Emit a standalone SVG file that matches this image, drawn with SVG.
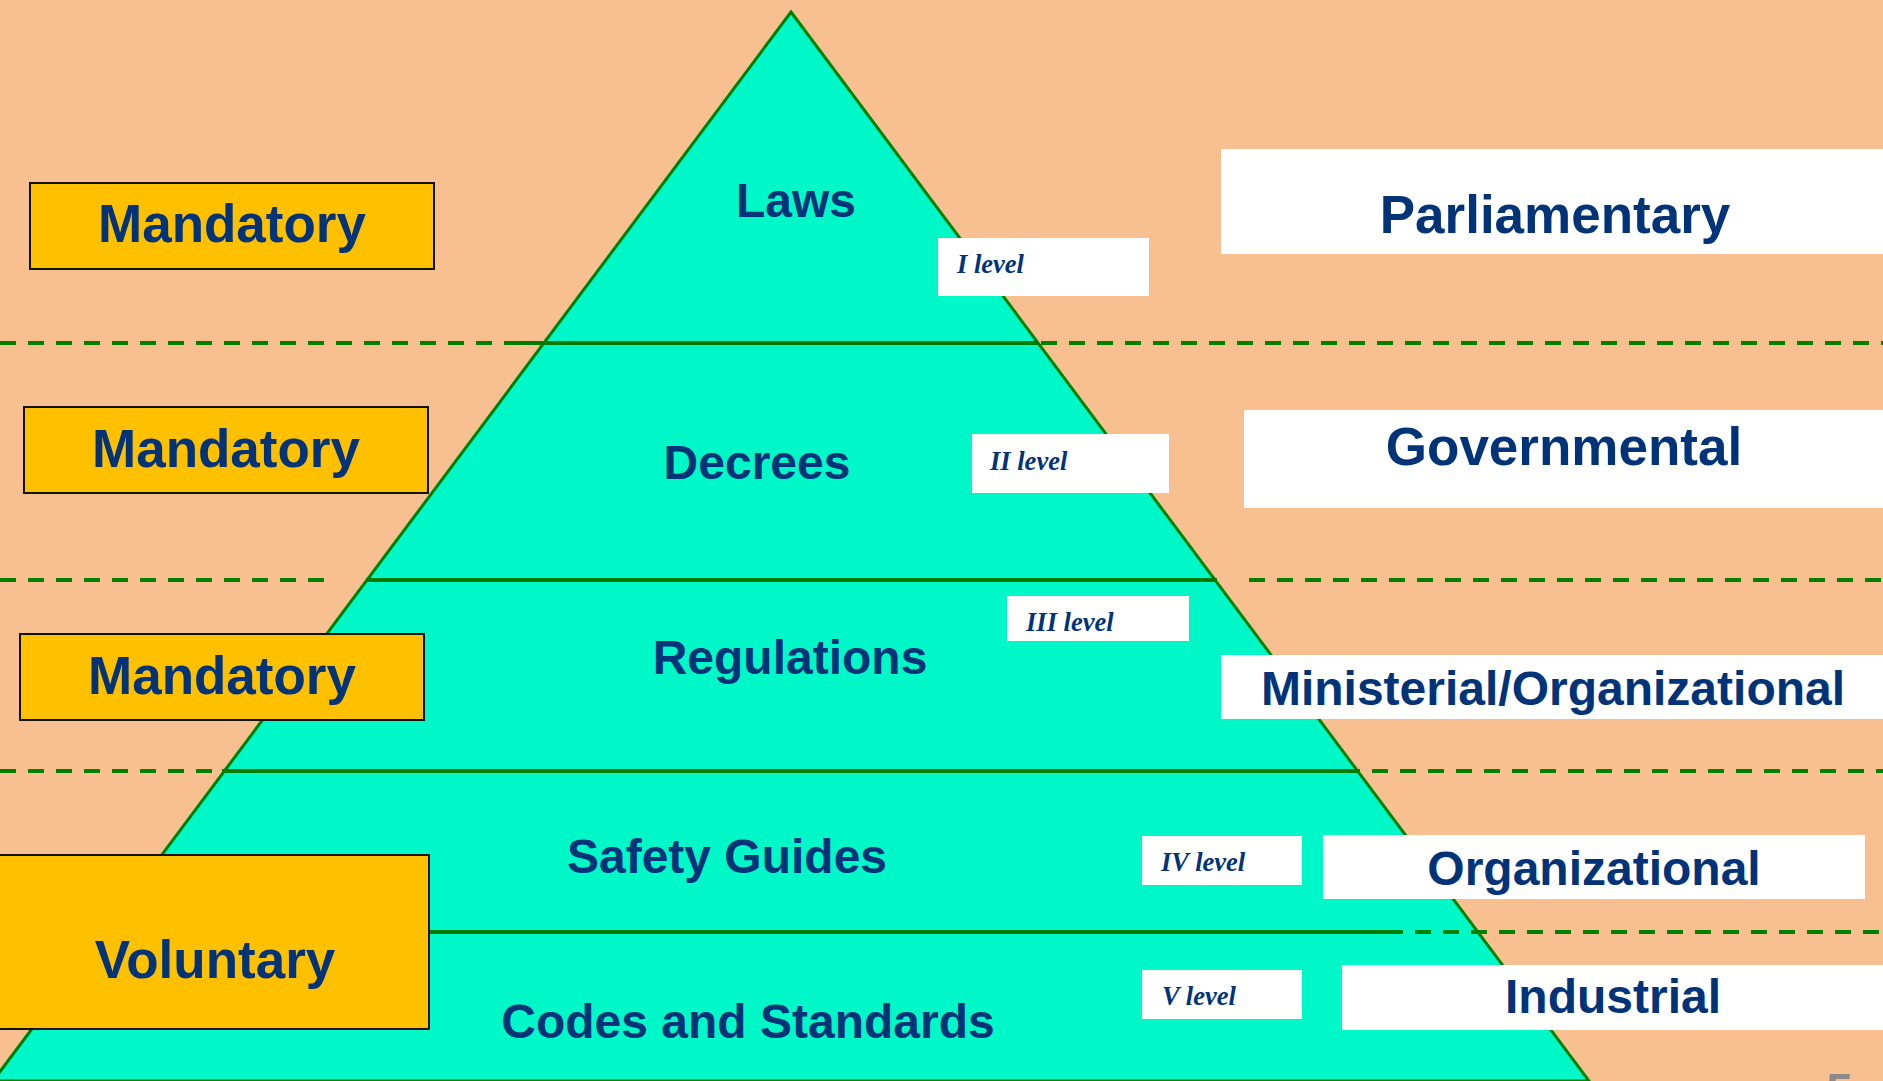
<svg xmlns="http://www.w3.org/2000/svg" width="1883" height="1081" viewBox="0 0 1883 1081">
<style>
.bold{font-family:"Liberation Sans",Arial,sans-serif;font-weight:bold;fill:#003377;text-anchor:middle}
.big{font-size:53px}
.mid{font-size:48px}
.lvl{font-family:"Liberation Serif","Times New Roman",serif;font-weight:bold;font-style:italic;font-size:26.5px;fill:#003377}
.ybox{fill:#FFC000;stroke:#111;stroke-width:2}
.wbox{fill:#ffffff}
.dash{stroke:#008000;stroke-width:4;stroke-dasharray:16 12;fill:none}
.solid{stroke:#007a00;stroke-width:4;fill:none}
</style>
<rect x="0" y="0" width="1883" height="1081" fill="#F8C090"/>
<g id="pyramid">
<polygon points="791,12 1589,1081 -7,1081" fill="#00F7C8" stroke="#008000" stroke-width="3"/>
</g>
<g id="connectors">
<line class="dash" x1="0" y1="343" x2="541" y2="343"/>
<line class="dash" x1="1041" y1="343" x2="1883" y2="343"/>
<line class="solid" x1="516" y1="343" x2="1038" y2="343"/>
<line class="dash" x1="0" y1="580" x2="330" y2="580"/>
<line class="dash" x1="1249" y1="580" x2="1883" y2="580"/>
<line class="solid" x1="366" y1="580" x2="1217" y2="580"/>
<line class="dash" x1="0" y1="771" x2="1883" y2="771"/>
<line class="solid" x1="222" y1="771" x2="1357" y2="771"/>
<line class="dash" x1="1387" y1="932" x2="1883" y2="932"/>
<line class="solid" x1="429" y1="932" x2="1387" y2="932"/>
</g>
<g id="tier-laws"><text class="bold mid" x="796" y="217">Laws</text></g>
<g id="tier-decrees"><text class="bold mid" x="757" y="479">Decrees</text></g>
<g id="tier-regulations"><text class="bold mid" x="790" y="674">Regulations</text></g>
<g id="tier-guides"><text class="bold mid" x="727" y="873">Safety Guides</text></g>
<g id="tier-codes"><text class="bold mid" x="748" y="1038">Codes and Standards</text></g>
<g id="level-1"><rect class="wbox" x="938" y="238" width="211" height="58"/><text class="lvl" x="957" y="273">I level</text></g>
<g id="level-2"><rect class="wbox" x="972" y="434" width="197" height="59"/><text class="lvl" x="990" y="470">II level</text></g>
<g id="level-3"><rect class="wbox" x="1007" y="596" width="182" height="45"/><text class="lvl" x="1026" y="631">III level</text></g>
<g id="level-4"><rect class="wbox" x="1142" y="836" width="160" height="49"/><text class="lvl" x="1161" y="871">IV level</text></g>
<g id="level-5"><rect class="wbox" x="1142" y="970" width="160" height="49"/><text class="lvl" x="1162" y="1005">V level</text></g>
<g id="mandatory-1"><rect class="ybox" x="30" y="183" width="404" height="86"/><text class="bold big" x="232" y="242">Mandatory</text></g>
<g id="mandatory-2"><rect class="ybox" x="24" y="407" width="404" height="86"/><text class="bold big" x="226" y="467">Mandatory</text></g>
<g id="mandatory-3"><rect class="ybox" x="20" y="634" width="404" height="86"/><text class="bold big" x="222" y="694">Mandatory</text></g>
<g id="voluntary"><rect class="ybox" x="-2" y="855" width="431" height="174"/><text class="bold big" x="215" y="978">Voluntary</text></g>
<g id="parliamentary"><rect class="wbox" x="1221" y="149" width="662" height="105"/><text class="bold big" x="1555" y="233">Parliamentary</text></g>
<g id="governmental"><rect class="wbox" x="1244" y="410" width="639" height="98"/><text class="bold big" x="1564" y="465">Governmental</text></g>
<g id="ministerial"><rect class="wbox" x="1221" y="655" width="662" height="64"/><text class="bold mid" x="1553" y="705">Ministerial/Organizational</text></g>
<g id="organizational"><rect class="wbox" x="1323" y="835" width="542" height="64"/><text class="bold mid" x="1594" y="885">Organizational</text></g>
<g id="industrial"><rect class="wbox" x="1342" y="965" width="541" height="65"/><text class="bold mid" x="1613" y="1013">Industrial</text></g>
<g id="page-number"><text x="1826" y="1107" font-family="Liberation Sans,Arial,sans-serif" font-weight="bold" font-size="48" fill="#8a8a8a">5</text></g>
</svg>
